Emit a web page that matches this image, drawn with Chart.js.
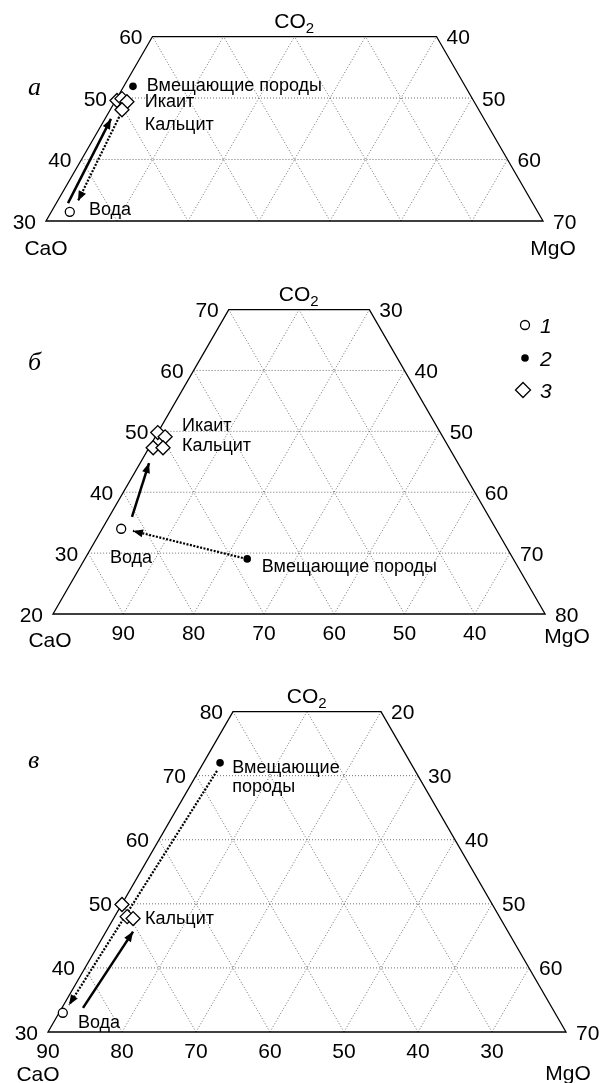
<!DOCTYPE html>
<html>
<head>
<meta charset="utf-8">
<script src="https://cdn.jsdelivr.net/npm/chart.js@4.4.1/dist/chart.umd.min.js"></script>
<style>
  body { margin: 0; background: #fff; width: 601px; height: 1083px; position: relative; overflow: hidden; }
  canvas { position: absolute; left: 0; }
</style>
</head>
<body>
<canvas id="pa" style="top:0px" width="601" height="270"></canvas>
<canvas id="pb" style="top:270px" width="601" height="390"></canvas>
<canvas id="pc" style="top:660px" width="601" height="423"></canvas>
<script>
// every point is [MgO, CO2] in %
// panel а
let waterA = [[2.6, 31.5]];
let hostA = [[1.3, 51.9]];
let mineralsA = [[0.2, 49.6], [0.75, 49.9], [1.7, 49.4], [1.65, 48.1]];
let pathSolidA = [[1.65, 32.9], [0.85, 46.6]];
let pathDotA = [[1.8, 47.45], [2.87, 33.26]];
// panel б
let waterB = [[2.7, 34.0]];
let hostB = [[23.1, 29.05]];
let mineralsB = [[0.0, 49.8], [1.4, 49.1], [0.6, 47.3], [2.0, 47.3]];
let pathSolidB = [[3.26, 35.95], [1.26, 44.8]];
let pathDotB = [[22.4, 29.2], [4.55, 33.65]];
// panel в
let waterC = [[0.5, 33.0]];
let hostC = [[2.25, 72.0]];
let mineralsC = [[0.05, 49.9], [1.7, 48.0], [2.65, 47.7]];
let pathSolidC = [[2.85, 33.76], [3.66, 45.67]];
let pathDotC = [[2.46, 70.75], [0.73, 34.23]];

// tick labels
let co2TicksA = [30, 40, 50, 60];
let mgoTicksA = [70, 60, 50, 40];
let co2TicksB = [20, 30, 40, 50, 60, 70];
let mgoTicksB = [80, 70, 60, 50, 40, 30];
let caoTicksB = [90, 80, 70, 60, 50, 40];
let co2TicksC = [30, 40, 50, 60, 70, 80];
let mgoTicksC = [70, 60, 50, 40, 30, 20];
let caoTicksC = [90, 80, 70, 60, 50, 40, 30];

// point names, anchored at [MgO, CO2]
let namesA = [["Вмещающие породы", 3.1, 52.2], ["Икаит", 4.1, 49.6], ["Кальцит", 6.0, 45.8], ["Вода", 5.0, 32.1]];
let namesB = [["Икаит", 2.8, 51.1], ["Кальцит", 4.45, 47.8], ["Вода", 3.35, 29.5], ["Вмещающие породы", 25.75, 27.9]];
let namesC = [["Вмещающие", 4.15, 71.5], ["породы", 5.7, 68.4], ["Кальцит", 4.15, 47.9], ["Вода", 3.2, 31.7]];

const W = 70; // width of the bottom edge in % units
const FONT = '"Liberation Sans", Arial, sans-serif';

const panels = [
  { id: 'pa', top: 0, h: 270, ox: 46, oy: 221, kx: 7.1, cBot: 30, cTop: 60, letter: 'а', letterAt: [28, 95],
    co2: co2TicksA, mgo: mgoTicksA, cao: null, caoZero: 0, names: namesA,
    water: waterA, host: hostA, minerals: mineralsA, solid: pathSolidA, dot: pathDotA,
    caoLbl: [46, 34], mgoLbl: [553, 34], legend: false },
  { id: 'pb', top: 270, h: 390, ox: 53, oy: 614, kx: 7.03, cBot: 20, cTop: 70, letter: 'б', letterAt: [28, 370],
    co2: co2TicksB, mgo: mgoTicksB, cao: caoTicksB, caoZero: 100, names: namesB,
    water: waterB, host: hostB, minerals: mineralsB, solid: pathSolidB, dot: pathDotB,
    caoLbl: [50, 33], mgoLbl: [567, 29], legend: true },
  { id: 'pc', top: 660, h: 423, ox: 48, oy: 1032, kx: 7.4, cBot: 30, cTop: 80, letter: 'в', letterAt: [28, 768],
    co2: co2TicksC, mgo: mgoTicksC, cao: caoTicksC, caoZero: 90, names: namesC,
    water: waterC, host: hostC, minerals: mineralsC, solid: pathSolidC, dot: pathDotC,
    caoLbl: [38, 49], mgoLbl: [568, 48], legend: false }
];

function toXY(list, P) {
  return list.map(p => ({ x: p[0] + 0.5 * (p[1] - P.cBot), y: p[1] }));
}

function txt(ctx, s, x, y, size, align, style) {
  ctx.font = (style || '') + ' ' + size + 'px ' + FONT;
  ctx.textAlign = align || 'left';
  ctx.textBaseline = 'alphabetic';
  ctx.fillText(s, x, y + 0.36 * size);
}

function ternPlugin(P) {
  return {
    id: 'tern',
    beforeDatasetsDraw(chart) {
      const ctx = chart.ctx;
      const sx = chart.scales.x, sy = chart.scales.y;
      const S = (X, c) => [sx.getPixelForValue(X), sy.getPixelForValue(c)];
      const d0 = P.cTop - P.cBot;
      const seg = (a, b) => { ctx.beginPath(); ctx.moveTo(a[0], a[1]); ctx.lineTo(b[0], b[1]); ctx.stroke(); };
      ctx.save();
      ctx.strokeStyle = '#6e6e6e';
      ctx.lineWidth = 1;
      ctx.setLineDash([1, 2]);
      for (let c = P.cBot + 10; c < P.cTop; c += 10) {
        const d = c - P.cBot;
        seg(S(0.5 * d, c), S(W - 0.5 * d, c));
      }
      for (let m = 10; m < W; m += 10) {
        const dA = Math.min(d0, W - m);
        seg(S(m, P.cBot), S(m + 0.5 * dA, P.cBot + dA));
        const dB = Math.min(d0, m);
        seg(S(m, P.cBot), S(m - 0.5 * dB, P.cBot + dB));
      }
      ctx.setLineDash([]);
      ctx.strokeStyle = '#000';
      ctx.lineWidth = 1.3;
      const c1 = S(0, P.cBot), c2 = S(W, P.cBot), c3 = S(W - 0.5 * d0, P.cTop), c4 = S(0.5 * d0, P.cTop);
      ctx.beginPath();
      ctx.moveTo(c1[0], c1[1]); ctx.lineTo(c2[0], c2[1]); ctx.lineTo(c3[0], c3[1]); ctx.lineTo(c4[0], c4[1]);
      ctx.closePath();
      ctx.stroke();
      ctx.restore();
    },
    afterDatasetsDraw(chart) {
      const ctx = chart.ctx;
      const sx = chart.scales.x, sy = chart.scales.y;
      const S = (X, c) => [sx.getPixelForValue(X), sy.getPixelForValue(c)];
      ctx.save();
      ctx.fillStyle = '#000';
      // arrow heads
      chart.data.datasets.forEach((ds, i) => {
        if (!ds.arrow) return;
        const pts = chart.getDatasetMeta(i).data;
        const a = pts[0], b = pts[pts.length - 1];
        const ang = Math.atan2(b.y - a.y, b.x - a.x);
        const L = 10, w = 4;
        const bx = b.x - L * Math.cos(ang), by = b.y - L * Math.sin(ang);
        ctx.beginPath();
        ctx.moveTo(b.x, b.y);
        ctx.lineTo(bx - w * Math.sin(ang), by + w * Math.cos(ang));
        ctx.lineTo(bx + w * Math.sin(ang), by - w * Math.cos(ang));
        ctx.closePath();
        ctx.fill();
      });
      // edge tick labels
      P.co2.forEach(c => {
        const p = S(0.5 * (c - P.cBot), c);
        txt(ctx, String(c), p[0] - 10, p[1], 21, 'right');
      });
      P.mgo.forEach((v, k) => {
        const c = P.co2[k];
        const p = S(W - 0.5 * (c - P.cBot), c);
        txt(ctx, String(v), p[0] + 10, p[1], 21, 'left');
      });
      if (P.cao) {
        P.cao.forEach(v => {
          const p = S(P.caoZero - v, P.cBot);
          txt(ctx, String(v), p[0], p[1] + 18, 21, 'center');
        });
      }
      // component names
      const top = S(W / 2, P.cTop), bot = S(0, P.cBot);
      ctx.font = '21px ' + FONT;
      const wCO = ctx.measureText('CO').width;
      ctx.textAlign = 'left';
      ctx.textBaseline = 'alphabetic';
      const xCO = top[0] - (wCO + 9) / 2;
      ctx.fillText('CO', xCO, top[1] - 9);
      ctx.font = '15px ' + FONT;
      ctx.fillText('2', xCO + wCO, top[1] - 4);
      ctx.font = '21px ' + FONT;
      ctx.textAlign = 'center';
      ctx.fillText('CaO', P.caoLbl[0], bot[1] + P.caoLbl[1]);
      ctx.fillText('MgO', P.mgoLbl[0], bot[1] + P.mgoLbl[1]);
      // point names
      P.names.forEach(n => {
        const p = S(n[1] + 0.5 * (n[2] - P.cBot), n[2]);
        txt(ctx, n[0], p[0], p[1], 18, 'left');
      });
      // panel letter
      ctx.font = 'italic 26px "Liberation Serif", "Times New Roman", serif';
      ctx.textAlign = 'left';
      ctx.fillText(P.letter, P.letterAt[0], P.letterAt[1] - P.top);
      // legend
      if (P.legend) {
        const lx = 525, ly = [325, 358, 390].map(v => v - P.top);
        ctx.lineWidth = 1.3;
        ctx.strokeStyle = '#000';
        ctx.beginPath(); ctx.arc(lx, ly[0], 4.5, 0, Math.PI * 2); ctx.fillStyle = '#fff'; ctx.fill(); ctx.stroke();
        ctx.fillStyle = '#000';
        ctx.beginPath(); ctx.arc(lx, ly[1], 3.8, 0, Math.PI * 2); ctx.fill();
        ctx.beginPath();
        ctx.moveTo(lx - 2, ly[2] - 7.5); ctx.lineTo(lx + 5.5, ly[2]); ctx.lineTo(lx - 2, ly[2] + 7.5); ctx.lineTo(lx - 9.5, ly[2]);
        ctx.closePath(); ctx.fillStyle = '#fff'; ctx.fill(); ctx.stroke();
        ctx.fillStyle = '#000';
        ['1', '2', '3'].forEach((s, k) => txt(ctx, s, 540, ly[k], 21, 'left', 'italic'));
      }
      ctx.restore();
    }
  };
}

panels.forEach(P => {
  const ky = P.kx * Math.sqrt(3) / 2;
  const yp = P.oy - P.top;
  new Chart(document.getElementById(P.id), {
    type: 'scatter',
    data: {
      datasets: [
        { data: toXY(P.minerals, P), pointStyle: 'rectRot', pointRadius: 7, backgroundColor: '#fff', borderColor: '#000', borderWidth: 1.3 },
        { data: toXY(P.host, P), pointStyle: 'circle', pointRadius: 3.8, backgroundColor: '#000', borderColor: '#000', borderWidth: 0 },
        { data: toXY(P.water, P), pointStyle: 'circle', pointRadius: 4.5, backgroundColor: '#fff', borderColor: '#000', borderWidth: 1.3 },
        { data: toXY(P.solid, P), showLine: true, pointRadius: 0, borderColor: '#000', borderWidth: 2.5, arrow: true },
        { data: toXY(P.dot, P), showLine: true, pointRadius: 0, borderColor: '#000', borderWidth: 2.2, borderDash: [2, 1.5], arrow: true }
      ]
    },
    options: {
      responsive: false,
      animation: false,
      clip: false,
      layout: { padding: 0, autoPadding: false },
      plugins: { legend: { display: false }, tooltip: { enabled: false } },
      scales: {
        x: { type: 'linear', display: false, min: -P.ox / P.kx, max: (601 - P.ox) / P.kx },
        y: { type: 'linear', display: false, min: P.cBot - (P.h - yp) / ky, max: P.cBot + yp / ky }
      }
    },
    plugins: [ternPlugin(P)]
  });
});
</script>
</body>
</html>
